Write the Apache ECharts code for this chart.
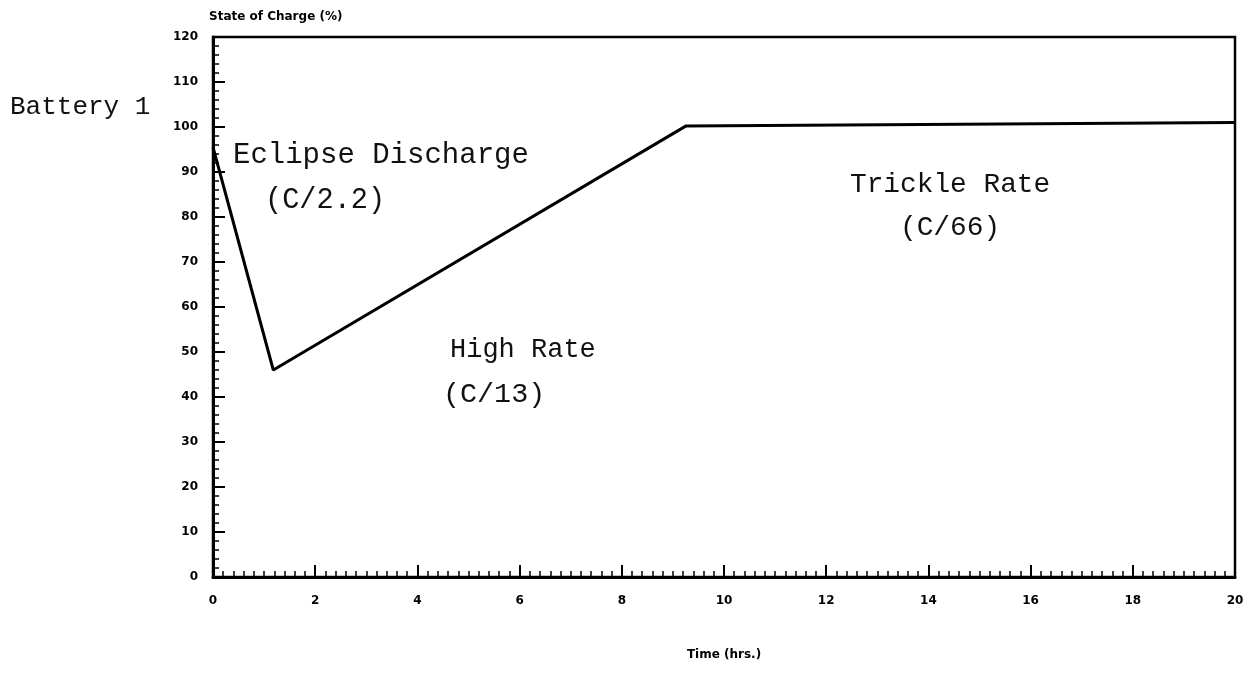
<!DOCTYPE html>
<html>
<head>
<meta charset="utf-8">
<script src="https://cdn.jsdelivr.net/npm/echarts@6/dist/echarts.min.js"></script>
<style>
html,body{margin:0;padding:0;background:#fff;}
#c{width:1254px;height:692px;}
</style>
</head>
<body>
<div id="c"></div>
<script>
// Data
const timeHrs = [0, 1.18, 9.25, 20];
const socPct = [95.5, 46, 100.2, 101];
const xTickMin = 0, xTickMax = 20, xTickStep = 2;
const yTickMin = 0, yTickMax = 120, yTickStep = 10;
const xAxisTitle = 'Time (hrs.)';
const yAxisTitle = 'State of Charge (%)';
const annotations = ['Battery 1', 'Eclipse Discharge', '(C/2.2)', 'High Rate', '(C/13)', 'Trickle Rate', '(C/66)'];

const chart = echarts.init(document.getElementById('c'), null, {renderer: 'canvas'});
const labelFont = {color: '#000', fontWeight: 'bold', fontSize: 12, fontFamily: 'DejaVu Sans'};
// layout of the annotation texts: [left, top, fontSize]
const notePos = [[10, 94, 26], [233, 141, 29], [265, 186, 28.6], [450, 336, 27], [443, 380, 28.4], [850, 171, 27.8], [900, 214, 27.8]];

chart.setOption({
  animation: false,
  backgroundColor: '#fff',
  grid: {left: 213, right: 19, top: 37, bottom: 115, show: true, borderColor: '#000', borderWidth: 2.5, containLabel: false},
  xAxis: {
    type: 'value', min: xTickMin, max: xTickMax, interval: xTickStep,
    name: xAxisTitle, nameLocation: 'middle', nameGap: 72,
    nameTextStyle: {color: '#000', fontWeight: 'bold', fontSize: 12, fontFamily: 'DejaVu Sans'},
    axisLine: {show: true, lineStyle: {color: '#000', width: 3}},
    axisTick: {show: true, inside: true, length: 12, lineStyle: {color: '#000', width: 2}},
    minorTick: {show: true, splitNumber: 10, length: 6, lineStyle: {color: '#000', width: 1.5}},
    axisLabel: Object.assign({margin: 18}, labelFont),
    splitLine: {show: false}, minorSplitLine: {show: false}
  },
  yAxis: {
    type: 'value', min: yTickMin, max: yTickMax, interval: yTickStep,
    name: yAxisTitle, nameLocation: 'end', nameGap: 14,
    nameTextStyle: {color: '#000', fontWeight: 'bold', fontSize: 12, fontFamily: 'DejaVu Sans', align: 'left', padding: [0, 0, 0, -4]},
    axisLine: {show: true, lineStyle: {color: '#000', width: 3}},
    axisTick: {show: true, inside: true, length: 12, lineStyle: {color: '#000', width: 2}},
    minorTick: {show: true, splitNumber: 5, length: 6, lineStyle: {color: '#000', width: 1.5}},
    axisLabel: Object.assign({margin: 15}, labelFont),
    splitLine: {show: false}, minorSplitLine: {show: false}
  },
  series: [{
    type: 'line',
    data: timeHrs.map((t, i) => [t, socPct[i]]),
    symbol: 'none',
    lineStyle: {color: '#000', width: 3},
    z: 5
  }],
  graphic: annotations.map((txt, i) => ({
    type: 'text', left: notePos[i][0], top: notePos[i][1],
    style: {text: txt, fill: '#111', fontSize: notePos[i][2], fontFamily: 'Liberation Mono'}
  }))
});
</script>
</body>
</html>
